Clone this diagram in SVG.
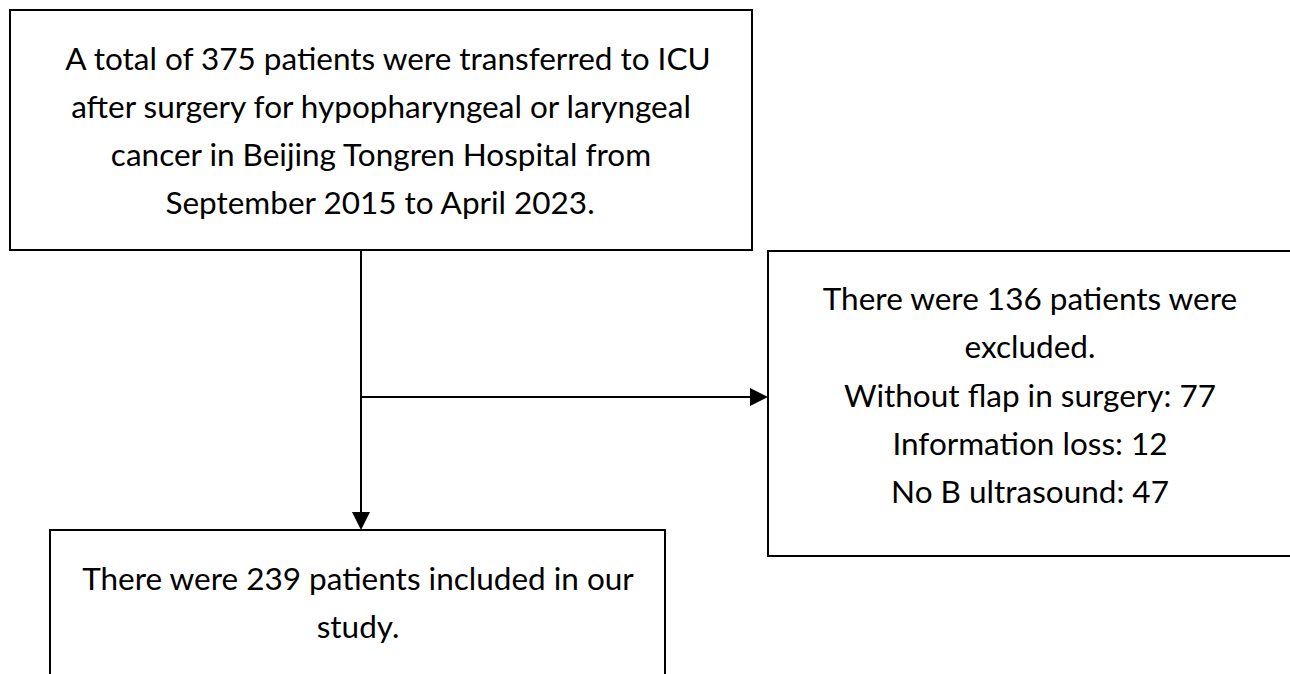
<svg xmlns="http://www.w3.org/2000/svg" width="1290" height="674" viewBox="0 0 1290 674">
<style>
.box{fill:#fff;stroke:#000;stroke-width:2}
.t{font-family:Lato,"Liberation Sans",sans-serif;font-size:31.5px;fill:#000;text-anchor:middle}
.c{stroke:#000;stroke-width:2;fill:none}
</style>
<rect width="1290" height="674" fill="#fff"/>
<g id="connectors">
<line class="c" x1="361" y1="251" x2="361" y2="512"/>
<path d="M352,512 L370,512 L361,530 Z" fill="#000"/>
<line class="c" x1="361" y1="397" x2="750" y2="397"/>
<path d="M750,388 L750,406 L768,397 Z" fill="#000"/>
</g>
<g id="n1">
<rect class="box" x="10" y="10" width="742" height="240"/>
<text class="t" x="388" y="70">A total of 375 patients were transferred to ICU</text>
<text class="t" x="381" y="118">after surgery for hypopharyngeal or laryngeal</text>
<text class="t" x="381" y="166">cancer in Beijing Tongren Hospital from</text>
<text class="t" x="380" y="214">September 2015 to April 2023.</text>
</g>
<g id="n2">
<rect class="box" x="768" y="251" width="530" height="305"/>
<text class="t" x="1030" y="310">There were 136 patients were</text>
<text class="t" x="1030" y="358">excluded.</text>
<text class="t" x="1030" y="407">Without flap in surgery: 77</text>
<text class="t" x="1030" y="455">Information loss: 12</text>
<text class="t" x="1030" y="503">No B ultrasound: 47</text>
</g>
<g id="n3">
<rect class="box" x="50" y="530" width="615" height="160"/>
<text class="t" x="358" y="590">There were 239 patients included in our</text>
<text class="t" x="358" y="638">study.</text>
</g>
</svg>
